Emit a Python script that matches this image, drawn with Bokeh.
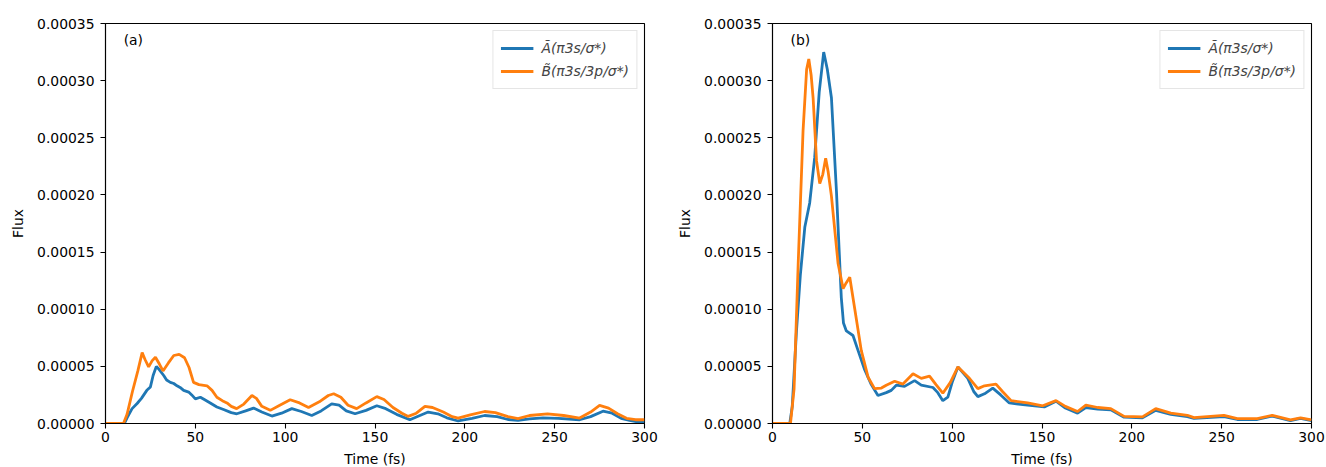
from bokeh.plotting import figure
from bokeh.layouts import row
from bokeh.models import (Range1d, FixedTicker, PrintfTickFormatter, Legend, LegendItem, Label)
from bokeh.embed import file_html
from bokeh.resources import INLINE

# ---------------- data (flux in units of 1e-5) ----------------
a_t_orange = [0, 10, 12, 15, 18, 20.4, 22, 24, 26, 27.8, 30, 32, 35, 38, 41, 44, 46.5, 49, 52, 56.5,
              59.3, 62, 65, 67.6, 70, 73, 77, 81.5, 84, 87, 91.7, 97, 102.8, 108, 113, 119, 124, 127,
              131, 135, 139.8, 145, 151, 155, 160, 165, 168.5, 173, 177.8, 182, 188, 193, 196.3, 203,
              211, 217, 224, 229.6, 236, 246, 255, 263.9, 270, 275, 280, 285, 290, 295, 300]
a_v_orange = [0, 0, 0.8, 2.8, 4.6, 6.2, 5.6, 4.95, 5.5, 5.8, 5.2, 4.6, 5.3, 5.95, 6.05, 5.75, 4.9, 3.6, 3.4, 3.3,
              2.9, 2.3, 2.0, 1.8, 1.5, 1.3, 1.7, 2.45, 2.2, 1.5, 1.15, 1.6, 2.08, 1.8, 1.4, 1.9, 2.45, 2.6,
              2.3, 1.6, 1.3, 1.8, 2.35, 2.1, 1.4, 0.9, 0.62, 0.9, 1.5, 1.4, 1.0, 0.6, 0.47, 0.75,
              1.05, 0.95, 0.6, 0.42, 0.7, 0.85, 0.7, 0.48, 1.0, 1.58, 1.35, 0.85, 0.45, 0.33, 0.33]

a_t_blue = [0, 10.5, 12, 14.8, 17.6, 20, 23, 25, 26.5, 28.3, 30, 32.4, 34, 36.1, 38, 39.8, 42, 43.5, 46.3,
            48, 50, 52.8, 55, 58.3, 62, 65.7, 70, 73.1, 78, 82.4, 87, 92.6, 98, 103.7, 109, 114.8, 120,
            125.9, 130, 134, 138.9, 145, 151, 156, 162, 169.4, 175, 179.6, 185, 190, 196.3, 204, 211,
            218, 224, 229.6, 236, 243.5, 252, 263.9, 270, 276.9, 282, 287, 291.7, 296, 300]
a_v_blue = [0, 0, 0.5, 1.3, 1.75, 2.2, 2.9, 3.2, 4.2, 5.0, 4.7, 4.2, 3.8, 3.6, 3.5, 3.3, 3.1, 2.9, 2.75,
            2.5, 2.15, 2.3, 2.1, 1.8, 1.45, 1.22, 0.95, 0.85, 1.1, 1.35, 1.0, 0.65, 0.9, 1.3, 1.05, 0.7, 1.1,
            1.72, 1.6, 1.1, 0.85, 1.15, 1.55, 1.3, 0.8, 0.33, 0.7, 1.0, 0.85, 0.5, 0.22, 0.45, 0.7,
            0.6, 0.35, 0.27, 0.4, 0.5, 0.45, 0.33, 0.6, 1.08, 0.9, 0.45, 0.27, 0.15, 0.12]

b_t_blue = [0, 9.6, 11, 13.3, 15.5, 18, 20.7, 23.5, 26, 28.5, 30.5, 32.8, 35.6, 38.3, 39.5, 41.1, 44.8,
            47.6, 51.3, 55, 58.7, 63.3, 66.1, 68.9, 73.5, 79.1, 82.8, 89.3, 92, 94.8, 97.6, 100, 103.2,
            108.7, 112, 114.3, 118, 122.6, 127, 131.8, 142, 151.3, 157.8, 163, 169.8, 174.4, 181, 188.3,
            195.7, 205.9, 213.3, 221.7, 230.9, 234.6, 251.3, 258.7, 269.8, 278.2, 288.3, 293.9, 300]
b_v_blue = [0, 0, 1.5, 8, 13, 17.2, 19.3, 23.3, 29, 32.5, 31, 28.5, 20.3, 11, 8.8, 8.1, 7.7,
            6.4, 4.7, 3.4, 2.45, 2.7, 2.9, 3.35, 3.25, 3.75, 3.35, 3.15, 2.7, 2.0, 2.3, 3.6, 4.95,
            3.95, 2.8, 2.35, 2.6, 3.1, 2.5, 1.8, 1.6, 1.45, 1.95, 1.35, 0.9, 1.4, 1.25, 1.2,
            0.55, 0.5, 1.15, 0.8, 0.6, 0.45, 0.6, 0.35, 0.35, 0.65, 0.25, 0.45, 0.25]

b_t_orange = [0, 10, 12, 14.3, 17, 19, 20.2, 21.5, 22.6, 24.5, 26.3, 28, 29.6, 31, 32.8, 36.5, 39.3, 41,
              43, 45.7, 49.4, 53.2, 56.8, 60.6, 63.3, 68, 72.6, 78.2, 82.8, 87.4, 91, 94.8, 99, 103.2,
              109.6, 114.3, 118, 124.4, 128, 132.8, 142, 150.4, 157.8, 163, 169.8, 174.4, 181, 188.3,
              195.7, 205.9, 213.3, 221.7, 230.9, 234.6, 251.3, 258.7, 269.8, 278.2, 288.3, 293.9, 300]
b_v_orange = [0, 0, 3, 14, 25.6, 31, 31.9, 30.5, 28.5, 23, 21, 21.8, 23.2, 22, 19.9, 14, 11.8, 12.3,
              12.8, 10.1, 6.4, 4.05, 3.05, 3.1, 3.35, 3.7, 3.45, 4.35, 3.95, 4.15, 3.4, 2.65, 3.6, 4.95,
              3.95, 3.05, 3.3, 3.45, 2.8, 2.0, 1.8, 1.55, 2.0, 1.5, 1.05, 1.6, 1.4, 1.3,
              0.62, 0.58, 1.3, 0.9, 0.72, 0.52, 0.72, 0.42, 0.42, 0.72, 0.32, 0.5, 0.32]

UNIT = 1e-5
x_ticks = [0, 50, 100, 150, 200, 250, 300]
y_ticks = [0, 0.00005, 0.0001, 0.00015, 0.0002, 0.00025, 0.0003, 0.00035]
label_a = "Ã(π3s/σ*)"
label_b = "B̃(π3s/3p/σ*)"
panel_labels = ["(a)", "(b)"]

BLUE = "#1f77b4"
ORANGE = "#ff7f0e"
FONT = "DejaVu Sans"
FS = "13.9px"


def make_panel(tb, vb, to, vo, tag, border_left, border_right):
    p = figure(output_backend="svg", toolbar_location=None,
               frame_width=539, frame_height=400,
               min_border_left=border_left, min_border_right=border_right,
               min_border_top=23, min_border_bottom=44,
               x_range=Range1d(0, 300), y_range=Range1d(0, 0.00035),
               background_fill_color="white", border_fill_color="white")
    p.grid.visible = False
    p.outline_line_color = "black"
    p.outline_line_width = 1.1
    for ax in (p.xaxis[0], p.yaxis[0]):
        ax.major_tick_out = 5
        ax.major_tick_in = 0
        ax.minor_tick_line_color = None
        ax.axis_line_color = "black"
        ax.axis_line_width = 1.1
        ax.major_tick_line_width = 1.1
        ax.major_label_text_font = FONT
        ax.major_label_text_font_size = FS
        ax.major_label_text_color = "black"
        ax.axis_label_text_font = FONT
        ax.axis_label_text_font_size = FS
        ax.axis_label_text_font_style = "normal"
        ax.axis_label_text_color = "black"
    p.xaxis[0].ticker = FixedTicker(ticks=x_ticks)
    p.yaxis[0].ticker = FixedTicker(ticks=y_ticks)
    p.yaxis[0].formatter = PrintfTickFormatter(format="%.5f")
    p.xaxis[0].axis_label = "Time (fs)"
    p.yaxis[0].axis_label = "Flux"
    p.xaxis[0].major_label_standoff = 3
    p.xaxis[0].axis_label_standoff = 6
    p.yaxis[0].major_label_standoff = 6
    p.yaxis[0].axis_label_standoff = 8

    rb = p.line([t for t in tb], [v * UNIT for v in vb], line_color=BLUE, line_width=2.8)
    ro = p.line([t for t in to], [v * UNIT for v in vo], line_color=ORANGE, line_width=2.8)

    leg = Legend(items=[LegendItem(label=label_a, renderers=[rb]),
                        LegendItem(label=label_b, renderers=[ro])],
                 location="top_right", margin=7, padding=7, spacing=3,
                 glyph_width=33, glyph_height=20, label_height=20, label_standoff=8,
                 label_text_font=FONT, label_text_font_size=FS, label_text_font_style="italic",
                 border_line_color="#cccccc", border_line_width=1,
                 background_fill_color="white", background_fill_alpha=0.8)
    p.add_layout(leg)

    p.add_layout(Label(x=15.5, y=0.000336, text=tag, text_font=FONT, text_font_size=FS,
                       text_align="center", text_baseline="middle", text_color="black"))
    return p


p1 = make_panel(a_t_blue, a_v_blue, a_t_orange, a_v_orange, panel_labels[0], 105, 30)
p2 = make_panel(b_t_blue, b_v_blue, b_t_orange, b_v_orange, panel_labels[1], 98, 15)

layout = row(p1, p2)
open("out.html", "w").write(file_html(layout, INLINE))
